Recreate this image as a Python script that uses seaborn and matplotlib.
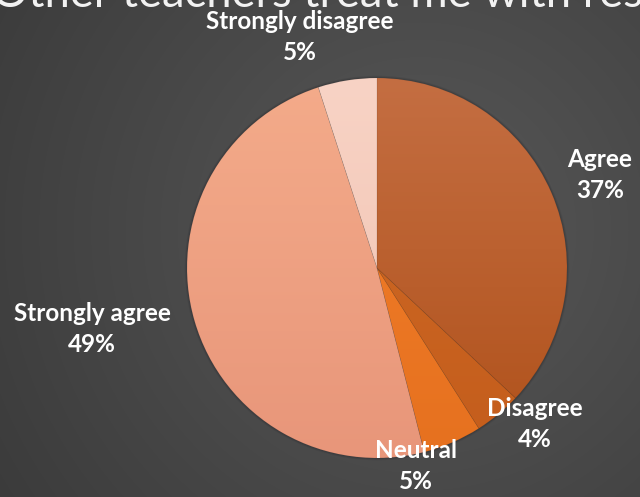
import numpy as np
import matplotlib
matplotlib.use("Agg")
import matplotlib.pyplot as plt
import seaborn as sns
from matplotlib.colors import LinearSegmentedColormap
from matplotlib.patches import Circle

# ---- data ----
categories = ["Agree", "Disagree", "Neutral", "Strongly agree", "Strongly disagree"]
percentages = [37, 4, 5, 49, 5]
title_text = "Other teachers treat me with respect"

# ---- style ----
top_colors = ["#c46e42", "#d06b26", "#f37f2b", "#f4ab8a", "#f8d3c5"]
bottom_colors = ["#b0511a", "#c45d1c", "#e6711f", "#e8967a", "#f0c1b0"]
label_pos_px = {
    "Agree": (600, 175),
    "Disagree": (535, 424),
    "Neutral": (416, 466),
    "Strongly agree": (92, 329),
    "Strongly disagree": (300, 37),
}

sns.set_theme(style="dark", rc={"figure.facecolor": "#474747",
                                "axes.facecolor": "none"})
plt.rcParams['font.family'] = ['Lato', 'DejaVu Sans']

W, H = 640, 497
fig = plt.figure(figsize=(W / 100, H / 100), dpi=100)

# background radial gradient
bg = fig.add_axes([0, 0, 1, 1])
bg.axis('off')
yy, xx = np.mgrid[0:H, 0:W]
d = np.clip(np.hypot(xx - 420, yy - 230) / 520, 0, 1)
c0 = np.array([0x58, 0x58, 0x58]) / 255
c1 = np.array([0x3a, 0x3a, 0x3a]) / 255
img = c0 + (c1 - c0) * d[..., None]
bg.imshow(img, extent=[0, 1, 0, 1], aspect='auto', origin='upper')
bg.set_xlim(0, 1)
bg.set_ylim(0, 1)

# pie
cx, cy, r = 377, 268, 190
ax = fig.add_axes([(cx - r) / W, (H - cy - r) / H, 2 * r / W, 2 * r / H])
wedges, _ = ax.pie(percentages, colors=top_colors, startangle=90,
                   counterclock=False, radius=1,
                   wedgeprops=dict(linewidth=0.5, edgecolor=(0, 0, 0, 0.07)))
grad = np.linspace(0, 1, 256)[:, None]
for w, tc, bc in zip(wedges, top_colors, bottom_colors):
    cmap = LinearSegmentedColormap.from_list("g", [bc, tc])
    im = ax.imshow(grad, cmap=cmap, extent=[-1, 1, -1, 1], origin='lower',
                   aspect='auto', zorder=1)
    im.set_clip_path(w)
    w.set_facecolor('none')
    w.set_zorder(2)
# subtle shadow rim around the pie
for rad, a in [(1.012, 0.12), (1.007, 0.22)]:
    ax.add_patch(Circle((0, 0), rad, facecolor=(0.15, 0.15, 0.17, a),
                        edgecolor='none', zorder=0.5, clip_on=False))
ax.set_xlim(-1, 1)
ax.set_ylim(-1, 1)
ax.set_aspect('equal')
ax.axis('off')

# labels
for cat, pct in zip(categories, percentages):
    px, py = label_pos_px[cat]
    fig.text(px / W, 1 - py / H, f"{cat}\n{pct}%", ha='center', va='center',
             fontsize=17.5, fontweight='bold', color='white', linespacing=1.4)

# title (cut off at top as in the reference); size/position fitted so that
# "teachers treat me with" spans x = 122..571 px
renderer = fig.canvas.get_renderer()
probe = fig.text(0, 0, "teachers treat me with", fontsize=28)
wmid = probe.get_window_extent(renderer).width
probe.remove()
fs = 28 * 449 / wmid
probe = fig.text(0, 0, "Other t", fontsize=fs)
w1 = probe.get_window_extent(renderer).width
probe.remove()
probe = fig.text(0, 0, "t", fontsize=fs)
w2 = probe.get_window_extent(renderer).width
probe.remove()
x0 = 122 - (w1 - w2)
fig.text(x0 / W, 1 - 7 / H, title_text, ha='left', va='baseline',
         fontsize=fs, color='#f2f2f2')

fig.savefig("out.png", dpi=100, facecolor=fig.get_facecolor())
